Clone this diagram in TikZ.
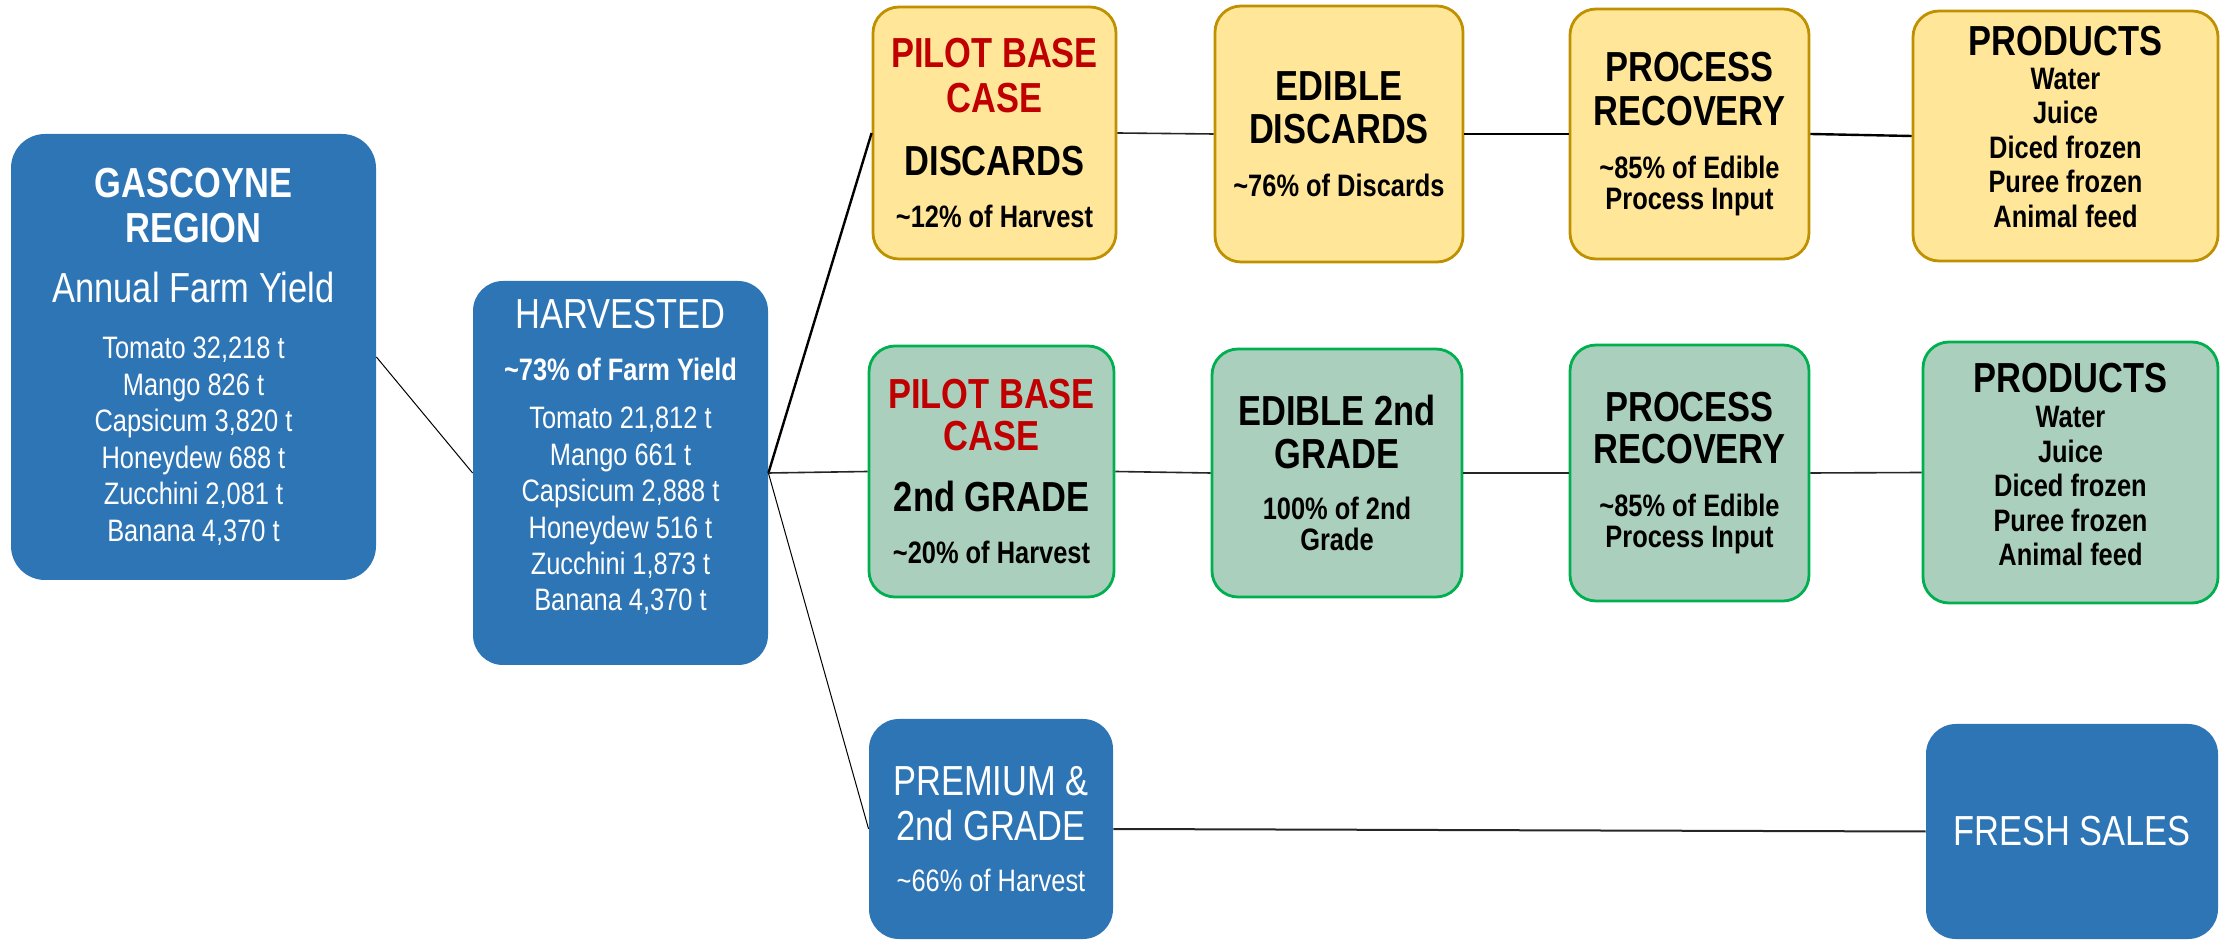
\documentclass[tikz,border=0pt]{standalone}
\usepackage{fontspec}
\setmainfont{Liberation Sans}[FakeStretch=0.82]
\usepackage{tikz}
\usetikzlibrary{positioning}

\definecolor{boxblue}{HTML}{2E75B6}
\definecolor{boxyellow}{HTML}{FFE699}
\definecolor{rimyellow}{HTML}{BF9000}
\definecolor{boxgreen}{HTML}{ABCFBD}
\definecolor{rimgreen}{HTML}{00B050}
\definecolor{pilotred}{HTML}{C00000}

\newcommand{\bigtxt}{\fontsize{21}{0}\selectfont\lineskiplimit=-200pt\relax}
\newcommand{\smtxt}{\fontsize{15.5}{0}\selectfont\lineskiplimit=-200pt\relax}
\newcommand{\downpad}[1]{\rule[-#1]{0pt}{#1}}

\begin{document}
\begin{tikzpicture}[x=0.5pt,y=-0.5pt,
        box/.style={rounded corners=13pt, inner sep=0pt, align=center, font=\smtxt},
        bluebox/.style={box, fill=boxblue, text=white},
        yelbox/.style={box, fill=boxyellow, draw=rimyellow, line width=1.4pt, font=\smtxt\bfseries},
        grnbox/.style={box, fill=boxgreen, draw=rimgreen, line width=1.4pt, font=\smtxt\bfseries},
        fine/.style={line width=0.5pt},
        link/.style={line width=0.8pt, black!85},
        heavy/.style={line width=1.2pt}
      ]
        \useasboundingbox (0,0) rectangle (2234,940);

        % Ertrag
        \node[bluebox, rounded corners=17pt, minimum width=182.5pt, minimum height=223pt] (region) at (193.5,357)
          {{\bfseries\bigtxt GASCOYNE}\\[22.25pt]{\bfseries\bigtxt REGION}\\[30.25pt]{\bigtxt Annual Farm Yield}\\[28pt]
           Tomato 32,218 t\\[18.25pt]Mango 826 t\\[18.25pt]Capsicum 3,820 t\\[18.25pt]
           Honeydew 688 t\\[18.25pt]Zucchini 2,081 t\\[18.25pt]Banana 4,370 t};
        \node[bluebox, rounded corners=15pt, minimum width=147.5pt, minimum height=192pt] (harv) at (620.5,473)
          {{\bigtxt HARVESTED}\\[26pt]{\bfseries\textasciitilde73\% of Farm Yield}\\[24.25pt]
           Tomato 21,812 t\\[18.2pt]Mango 661 t\\[18.2pt]Capsicum 2,888 t\\[18.2pt]
           Honeydew 516 t\\[18.2pt]Zucchini 1,873 t\\[18.2pt]Banana 4,370 t\downpad{18pt}};

        % Ausschuss
        \node[yelbox, minimum width=121.5pt, minimum height=126pt] (discD) at (994.5,133)
          {{\bigtxt\color{pilotred}PILOT BASE}\\[22.25pt]{\bigtxt\color{pilotred}CASE}\\[31.5pt]
           {\bigtxt DISCARDS}\\[26pt]\textasciitilde12\% of Harvest};
        \node[yelbox, minimum width=124pt, minimum height=128pt] (edD) at (1339,134)
          {{\bigtxt EDIBLE}\\[21.6pt]{\bigtxt DISCARDS}\\[26.5pt]\textasciitilde76\% of Discards};
        \node[yelbox, minimum width=119.5pt, minimum height=125pt] (procD) at (1689.5,134)
          {{\bigtxt PROCESS}\\[22.2pt]{\bigtxt RECOVERY}\\[26.3pt]\textasciitilde85\% of Edible\\[15.8pt]Process Input};
        \node[yelbox, minimum width=152.5pt, minimum height=125pt] (prodD) at (2065.5,136)
          {{\bigtxt PRODUCTS}\\[16.6pt]Water\\[17.3pt]Juice\\[17.3pt]Diced frozen\\[17.3pt]Puree frozen\\[17.3pt]Animal feed\downpad{9pt}};

        % Zweite Wahl
        \node[grnbox, minimum width=122.5pt, minimum height=125.5pt] (discG) at (991.5,471.5)
          {{\bigtxt\color{pilotred}PILOT BASE}\\[21.1pt]{\bigtxt\color{pilotred}CASE}\\[30.5pt]
           {\bigtxt 2nd GRADE}\\[25.8pt]\textasciitilde20\% of Harvest};
        \node[grnbox, minimum width=125pt, minimum height=124pt] (edG) at (1337,473)
          {{\bigtxt EDIBLE 2nd}\\[21.5pt]{\bigtxt GRADE}\\[25.65pt]100\% of 2nd\\[15.75pt]Grade};
        \node[grnbox, minimum width=119.5pt, minimum height=128pt] (procG) at (1689.5,473)
          {{\bigtxt PROCESS}\\[21.35pt]{\bigtxt RECOVERY}\\[26.35pt]\textasciitilde85\% of Edible\\[15.6pt]Process Input};
        \node[grnbox, minimum width=147.5pt, minimum height=130.5pt] (prodG) at (2070.5,472.5)
          {{\bigtxt PRODUCTS}\\[17.45pt]Water\\[17.25pt]Juice\\[17.25pt]Diced frozen\\[17.25pt]Puree frozen\\[17.25pt]Animal feed\downpad{8pt}};

        % Frischware
        \node[bluebox, rounded corners=15pt, minimum width=122pt, minimum height=110pt] (prem) at (991,829)
          {{\bigtxt PREMIUM \&}\\[22.5pt]{\bigtxt 2nd GRADE}\\[25.8pt]\textasciitilde66\% of Harvest};
        \node[bluebox, rounded corners=15pt, minimum width=146pt, minimum height=107.5pt] (fresh) at (2072,831.5)
          {\bigtxt FRESH SALES};

        % Verbindungen
        \draw[fine] (region.east) -- (harv.west);
        \draw[heavy] (harv.east) -- (discD.west);
        \draw[link] (harv.east) -- (discG.west);
        \draw[fine] (harv.east) -- (prem.west);

        \draw[link] (discD.east) -- (edD.west);
        \draw[heavy] (edD.east) -- (procD.west);
        \draw[heavy] (procD.east) -- (prodD.west);

        \draw[link] (discG.east) -- (edG.west);
        \draw[link] (edG.east) -- (procG.west);
        \draw[link] (procG.east) -- (prodG.west);

        \draw[link, line width=1pt] (prem.east) -- (fresh.west);
      \end{tikzpicture}
\end{document}
